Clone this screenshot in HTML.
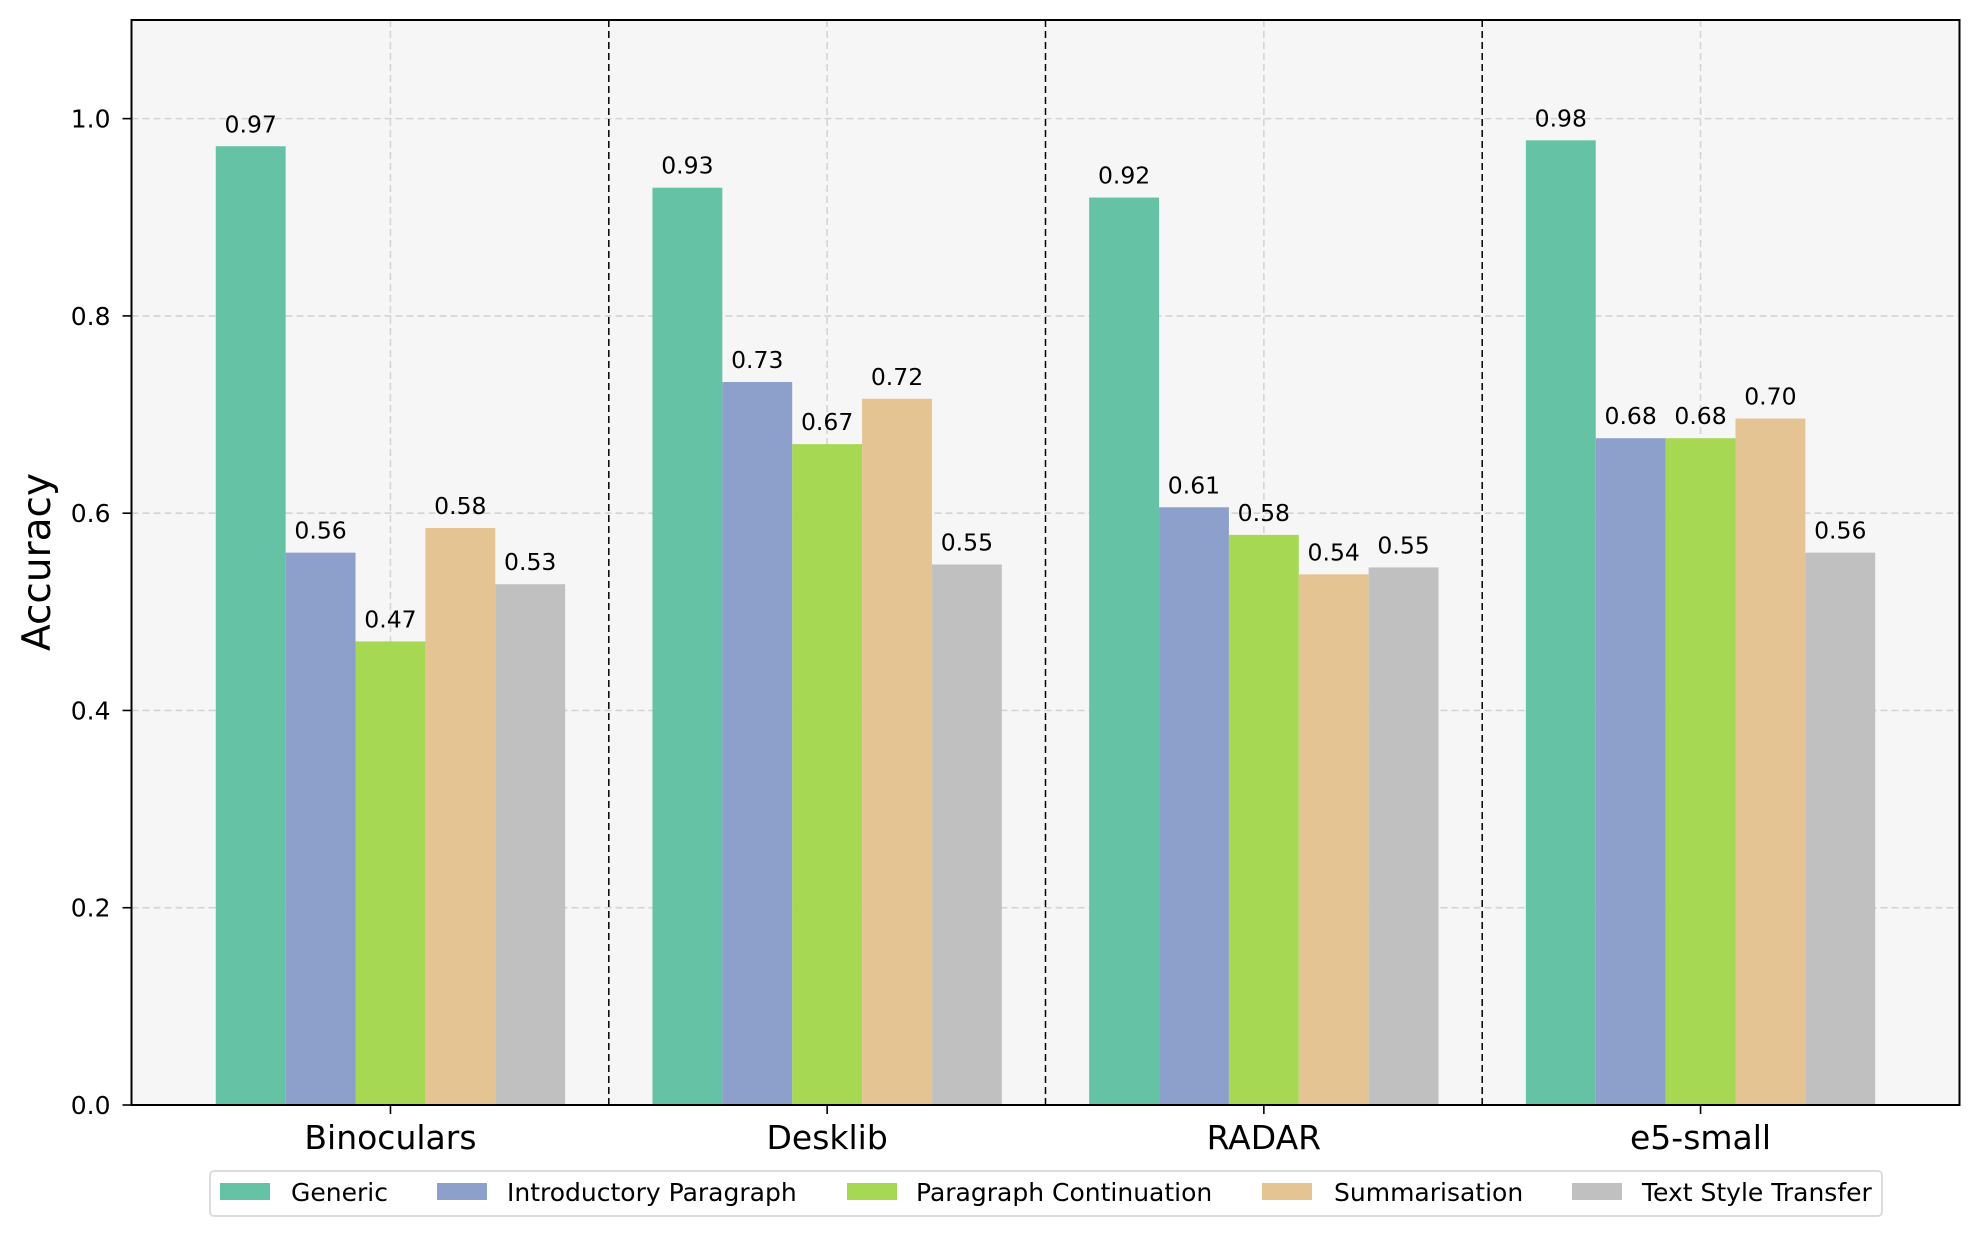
<!DOCTYPE html>
<html><head><meta charset="utf-8"><style>
html,body{margin:0;padding:0;background:#fff;}
svg{display:block;font-family:"DejaVu Sans","Liberation Sans",sans-serif;}
</style></head><body>
<svg id="chart" width="1980" height="1236" viewBox="0 0 1980 1236" xmlns="http://www.w3.org/2000/svg">
<rect x="0" y="0" width="1980" height="1236" fill="#ffffff"/>
<g id="plot"></g>
</svg>
<script>
const categories = ["Binoculars", "Desklib", "RADAR", "e5-small"];
const seriesNames = ["Generic", "Introductory Paragraph", "Paragraph Continuation", "Summarisation", "Text Style Transfer"];
const genericVals = [0.972, 0.930, 0.920, 0.978];
const introVals = [0.560, 0.733, 0.606, 0.676];
const contVals = [0.470, 0.670, 0.578, 0.676];
const summVals = [0.585, 0.716, 0.538, 0.696];
const styleVals = [0.528, 0.548, 0.545, 0.560];
const yTicks = [0.0, 0.2, 0.4, 0.6, 0.8, 1.0];
const yTickLabels = ["0.0", "0.2", "0.4", "0.6", "0.8", "1.0"];

const series = [genericVals, introVals, contVals, summVals, styleVals];
const colors = ["#66c2a5", "#8da0cb", "#a6d854", "#e5c494", "#c0c0c0"];
const NS = "http://www.w3.org/2000/svg";
const L = 131.5, R = 1959.5, T = 20, B = 1105;
const yMin = 0, yMax = 1.1, xMin = -0.593, xMax = 3.593, barW = 0.16;
const sx = v => L + (v - xMin) / (xMax - xMin) * (R - L);
const sy = v => B - (v - yMin) / (yMax - yMin) * (B - T);
const g = document.getElementById('plot');
function mk(tag, attrs, parent) {
  const e = document.createElementNS(NS, tag);
  for (const k in attrs) e.setAttribute(k, attrs[k]);
  (parent || g).appendChild(e);
  return e;
}
const bg = mk('rect', {x: L, y: T, width: R - L, height: B - T, fill: '#f6f6f6'});


yTicks.forEach((t, i) => {
  const y = sy(t);
  const gl = mk('line', {x1: L, x2: R, y1: y, y2: y, stroke: '#d4d4d4', 'stroke-width': 1.6, 'stroke-dasharray': '7,4'});
  
  
  const tk = mk('line', {x1: L - 9, x2: L, y1: y, y2: y, stroke: '#000', 'stroke-width': 1.6});
  
  
  const tl = mk('text', {x: L - 21, y: y + 9, 'font-size': 25, 'text-anchor': 'end', fill: '#000'});
  tl.textContent = yTickLabels[i];
  
  
});
categories.forEach((c, i) => {
  const x = sx(i);
  const gl = mk('line', {x1: x, x2: x, y1: T, y2: B, stroke: '#d4d4d4', 'stroke-width': 1.6, 'stroke-dasharray': '7,4'});
  
  
  if (i < categories.length - 1) {
    const xs = sx(i + 0.5);
    const sp = mk('line', {x1: xs, x2: xs, y1: T, y2: B, stroke: '#000', 'stroke-width': 1.5, 'stroke-dasharray': '7,4'});
    
    
  }
});
series.forEach((vals, s) => {
  vals.forEach((v, i) => {
    const xc = i + (s - 2) * barW;
    const x0 = sx(xc - barW / 2), x1 = sx(xc + barW / 2);
    const b = mk('rect', {x: x0, y: sy(v), width: x1 - x0, height: sy(0) - sy(v), fill: colors[s]});
    
    
    const t = mk('text', {x: (x0 + x1) / 2, y: sy(v) - 14, 'font-size': 23.5, 'text-anchor': 'middle', fill: '#000'});
    t.textContent = v.toFixed(2);
    
    
  });
});
categories.forEach((c, i) => {
  const x = sx(i);
  const tk = mk('line', {x1: x, x2: x, y1: B, y2: B + 9, stroke: '#000', 'stroke-width': 1.6});
  
  
  const tl = mk('text', {x: x, y: 1149, 'font-size': 33, 'text-anchor': 'middle', fill: '#000'});
  tl.textContent = c;
  
  
});
const fr = mk('rect', {x: L, y: T, width: R - L, height: B - T, fill: 'none', stroke: '#000', 'stroke-width': 2});


const yl = mk('text', {x: 0, y: 0, 'font-size': 39, 'text-anchor': 'middle', fill: '#000', transform: 'translate(50,562) rotate(-90)'});
yl.textContent = 'Accuracy';


const lg = mk('g', {});


const lb = mk('rect', {x: 210, y: 1171, width: 1672, height: 45, rx: 4, fill: '#fff', stroke: '#dcdcdc', 'stroke-width': 2}, lg);


const patchX = [220, 437, 847, 1262, 1572];
const textX = [291, 507, 916, 1334, 1642];
seriesNames.forEach((n, s) => {
  const p = mk('rect', {x: patchX[s], y: 1183, width: 50, height: 17, fill: colors[s]}, lg);
  
  
  const t = mk('text', {x: textX[s], y: 1201, 'font-size': 25, fill: '#000'}, lg);
  t.textContent = n;
  
  
});
</script>
</body></html>
